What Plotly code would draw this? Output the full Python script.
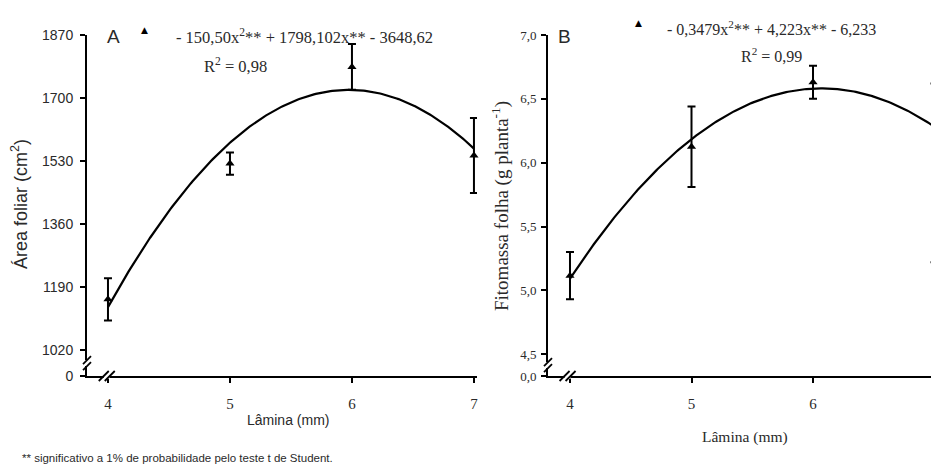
import numpy as np
import plotly.graph_objects as go

W, H = 931, 470

# ---------------- data ----------------
lamina = [4, 5, 6, 7]

# Panel A - Área foliar (cm2)
area_mean = [1157, 1523, 1784, 1545]
area_err = [57, 30, 62, 101]
area_coef = [-150.50, 1798.102, -3648.62]   # a x^2 + b x + c
area_ticks = [950, 1020, 1190, 1360, 1530, 1700, 1870]
area_ticktext = ["0", "1020", "1190", "1360", "1530", "1700", "1870"]

# Panel B - Fitomassa folha (g planta-1)
fito_mean = [5.115, 6.125, 6.63, 5.92]
fito_err = [0.185, 0.315, 0.13, 0.70]
fito_coef = [-0.3479, 4.223, -6.233]
fito_ticks = [4.33, 4.5, 5.0, 5.5, 6.0, 6.5, 7.0]
fito_ticktext = ["0,0", "4,5", "5,0", "5,5", "6,0", "6,5", "7,0"]

x_ticks = [4, 5, 6, 7]
x_ticktext = ["4", "5", "6", "7"]

# ---------------- helpers ----------------
def px(x):
    return x / W

def py(y):
    return 1 - y / H

xc = np.linspace(4, 7, 200)
area_fit = np.polyval(area_coef, xc)
fito_fit = np.polyval(fito_coef, xc)

TXT = "#2a2a2a"
fig = go.Figure()

fig.add_trace(go.Scatter(x=xc, y=area_fit, mode="lines",
                         line=dict(color="black", width=2.2),
                         xaxis="x", yaxis="y", showlegend=False, hoverinfo="skip"))
fig.add_trace(go.Scatter(x=lamina, y=area_mean, mode="markers",
                         marker=dict(symbol="triangle-up", size=8, color="black"),
                         error_y=dict(type="data", array=area_err, color="black",
                                      thickness=2, width=4),
                         xaxis="x", yaxis="y", showlegend=False, cliponaxis=False))

fig.add_trace(go.Scatter(x=xc, y=fito_fit, mode="lines",
                         line=dict(color="black", width=2.2),
                         xaxis="x2", yaxis="y2", showlegend=False, hoverinfo="skip"))
fig.add_trace(go.Scatter(x=lamina, y=fito_mean, mode="markers",
                         marker=dict(symbol="triangle-up", size=8, color="black"),
                         error_y=dict(type="data", array=fito_err, color="black",
                                      thickness=2, width=4),
                         xaxis="x2", yaxis="y2", showlegend=False, cliponaxis=False))

ydom = [py(376), py(35)]
axis_common = dict(showline=True, linecolor="black", linewidth=2, ticks="outside",
                   tickcolor="black", tickwidth=1.5, ticklen=5, showgrid=False,
                   zeroline=False, automargin=False)

fig.update_layout(
    width=W, height=H, margin=dict(l=0, r=0, t=0, b=0, pad=0, autoexpand=False),
    paper_bgcolor="white", plot_bgcolor="white", showlegend=False,
    xaxis=dict(domain=[px(87), px(477)], range=[3.828, 7.025], anchor="y",
               tickvals=x_ticks, ticktext=x_ticktext,
               tickfont=dict(family="Liberation Serif", size=15, color=TXT),
               ticklabelstandoff=8, **axis_common),
    yaxis=dict(domain=ydom, range=[950, 1870], anchor="x",
               tickvals=area_ticks, ticktext=area_ticktext,
               tickfont=dict(family="Liberation Sans", size=14, color=TXT),
               ticklabelstandoff=4, **axis_common),
    xaxis2=dict(domain=[px(548), 1.0], range=[3.819, 6.971], anchor="y2",
                tickvals=x_ticks, ticktext=x_ticktext,
                tickfont=dict(family="Liberation Serif", size=15, color=TXT),
                ticklabelstandoff=8, **axis_common),
    yaxis2=dict(domain=ydom, range=[4.33, 7.0], anchor="x2",
                tickvals=fito_ticks, ticktext=fito_ticktext,
                tickfont=dict(family="Liberation Serif", size=13, color=TXT),
                ticklabelstandoff=2, **axis_common),
)

ann = []
def add(text, x, y, size, family, xanchor="center", angle=0, color=TXT):
    ann.append(dict(text=text, x=px(x), y=py(y), xref="paper", yref="paper",
                    showarrow=False, xanchor=xanchor, yanchor="middle",
                    textangle=angle, font=dict(family=family, size=size, color=color)))

# Panel A texts
add("A", 113, 36, 19, "Liberation Sans")
add("▲", 144, 30, 9, "DejaVu Sans", color="black")
add("- 150,50x<sup>2</sup>** + 1798,102x** - 3648,62", 174, 36, 16.5, "Liberation Serif", xanchor="left")
add("R<sup>2</sup> = 0,98", 235, 66, 16.5, "Liberation Serif")
add("Área foliar (cm<sup>2</sup>)", 20, 204, 18, "Liberation Sans", angle=-90)
add("Lâmina (mm)", 288, 420, 14, "Liberation Sans")

# Panel B texts
add("B", 564, 36, 19, "Liberation Sans")
add("▲", 638, 23, 9, "DejaVu Sans", color="black")
add("- 0,3479x<sup>2</sup>** + 4,223x** - 6,233", 665, 28, 16, "Liberation Serif", xanchor="left")
add("R<sup>2</sup> = 0,99", 771, 55, 16, "Liberation Serif")
add("Fitomassa folha (g planta<sup>-1</sup>)", 500, 206, 19, "Liberation Serif", angle=-90)
add("Lâmina (mm)", 745, 437, 15.5, "Liberation Serif")

# footnote
add("** significativo a 1% de probabilidade pelo teste t de Student.", 20, 458, 11.5,
    "Liberation Sans", xanchor="left")

fig.update_layout(annotations=ann)

# axis break marks
shapes = []
def brk(xref, yref, xa, ya, vertical):
    shapes.append(dict(type="rect", xref=xref, yref=yref, xsizemode="pixel", ysizemode="pixel",
                       xanchor=xa, yanchor=ya, x0=-3, x1=3, y0=-3, y1=3,
                       fillcolor="white", line=dict(width=0)))
    if vertical:
        for dy in (-3, 3):
            shapes.append(dict(type="line", xref=xref, yref=yref, xsizemode="pixel", ysizemode="pixel",
                               xanchor=xa, yanchor=ya, x0=-4, x1=4, y0=dy - 4, y1=dy + 4,
                               line=dict(color="black", width=1.8)))
    else:
        for dx in (-3, 3):
            shapes.append(dict(type="line", xref=xref, yref=yref, xsizemode="pixel", ysizemode="pixel",
                               xanchor=xa, yanchor=ya, x0=dx - 5, x1=dx + 5, y0=-5, y1=5,
                               line=dict(color="black", width=1.8)))

brk("x domain", "y", 0, 985, True)
brk("x", "y domain", 3.99, 0, False)
brk("x2 domain", "y2", 0, 4.415, True)
brk("x2", "y2 domain", 3.98, 0, False)
fig.update_layout(shapes=shapes)

fig.write_html("out.html")
